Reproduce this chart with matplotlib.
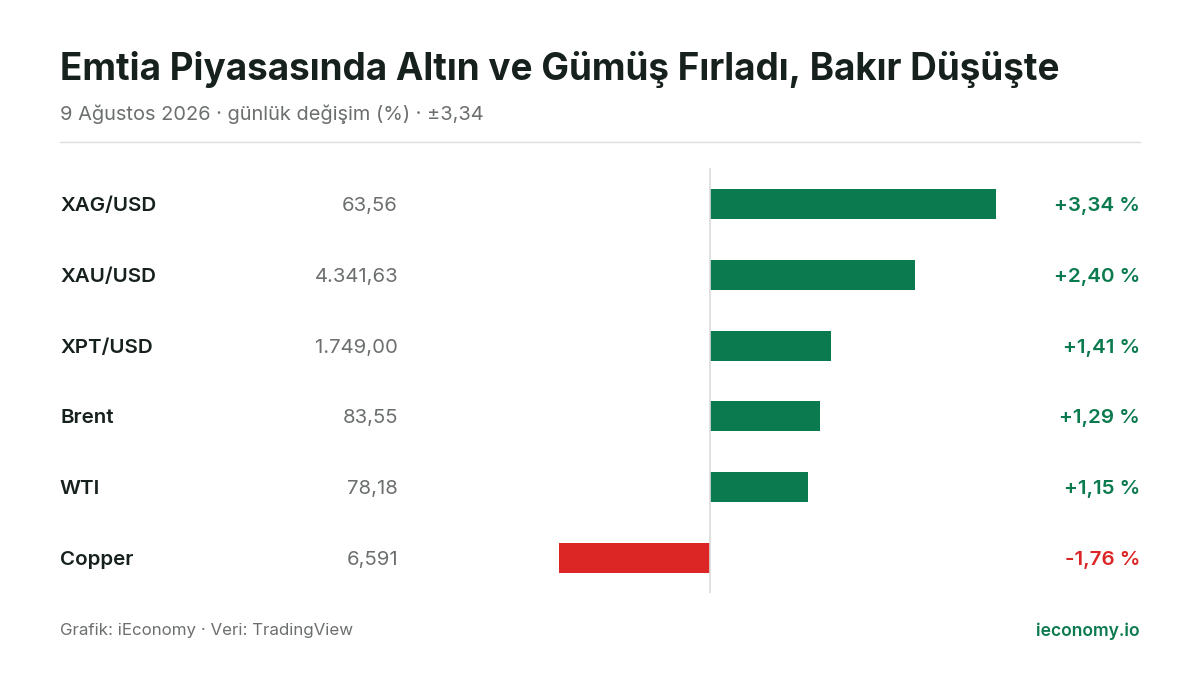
import matplotlib
matplotlib.use("Agg")
import matplotlib.pyplot as plt
import matplotlib.transforms as mtrans

plt.rcParams['font.family'] = ['Inter', 'DejaVu Sans']

names = ["XAG/USD", "XAU/USD", "XPT/USD", "Brent", "WTI", "Copper"]
prices = ["63,56", "4.341,63", "1.749,00", "83,55", "78,18", "6,591"]
changes = [3.34, 2.40, 1.41, 1.29, 1.15, -1.76]
change_labels = ["+3,34 %", "+2,40 %", "+1,41 %", "+1,29 %", "+1,15 %", "-1,76 %"]

GREEN = "#0b7a4e"
RED = "#dc2626"
DARK = "#16201c"
GRAY = "#6b6f6d"
W, H = 1200, 675
fig = plt.figure(figsize=(12, 6.75), dpi=100)
fig.patch.set_facecolor("white")

def fx(px): return px / W
def fy(py): return 1 - py / H

fig.text(fx(60), fy(69), "Emtia Piyasasında Altın ve Gümüş Fırladı, Bakır Düşüşte",
         fontsize=26.55, fontweight="bold", color=DARK, va="center", ha="left")
fig.text(fx(60), fy(114), "9 Ağustos 2026 · günlük değişim (%) · ±3,34",
         fontsize=14.4, color=GRAY, va="center", ha="left")
fig.add_artist(plt.Line2D([fx(60), fx(1140)], [fy(142), fy(142)], color="#dcdcdc", lw=1))

ax = fig.add_axes([fx(460), fy(593), fx(1140) - fx(460), (593 - 168) / H])
scale = 85.6
ax.set_xlim((460 - 710) / scale, (1140 - 710) / scale)
ax.set_ylim(5 + 35 / 70.8, -36 / 70.8)
ax.axis("off")
ys = list(range(len(names)))
colors = [GREEN if c >= 0 else RED for c in changes]
ax.barh(ys, changes, height=30 / 70.8, color=colors)
ax.axvline(0, color="#dcdcdc", lw=1.2)

tr = mtrans.blended_transform_factory(fig.transFigure, ax.transData)
off = 2 / 70.8
for y, n, p, c, cl in zip(ys, names, prices, changes, change_labels):
    ax.text(fx(60), y + off, n, transform=tr, fontsize=14.8, fontweight="semibold",
            color=DARK, va="center", ha="left")
    ax.text(fx(398), y + off, p, transform=tr, fontsize=14.6, color=GRAY,
            va="center", ha="right")
    ax.text(fx(1140), y + off, cl, transform=tr, fontsize=14.8, fontweight="semibold",
            color=GREEN if c >= 0 else RED, va="center", ha="right")

fig.text(fx(60), fy(631), "Grafik: iEconomy · Veri: TradingView",
         fontsize=12.2, color=GRAY, va="center", ha="left")
fig.text(fx(1140), fy(631), "ieconomy.io", fontsize=12.6, fontweight="semibold",
         color=GREEN, va="center", ha="right")

fig.savefig("out.png", dpi=100)
